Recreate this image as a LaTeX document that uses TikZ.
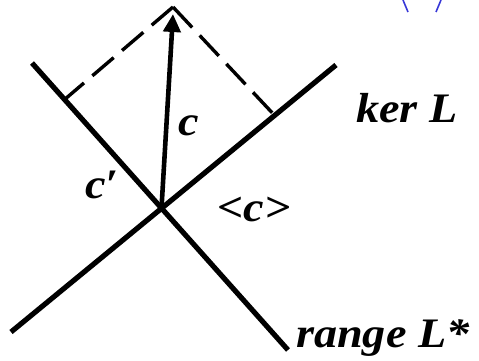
\documentclass[tikz,border=0pt]{standalone}
\usepackage{fontspec}
\setmainfont{Liberation Serif}
\usetikzlibrary{arrows.meta}
\tikzset{
  lbl/.style={inner sep=0pt, font=\fontsize{42}{44}\bfseries\itshape\selectfont, xscale=1.1},
  axis/.style={line width=5.2pt},
  proj/.style={line width=3.4pt, dash pattern=on 28pt off 11pt},
  vec/.style={line width=4.6pt, -{Triangle[length=18pt,width=17pt]}},
  bluemark/.style={line width=1.6pt, draw={rgb,255:red,55;green,55;blue,215}}
}
\begin{document}
\begin{tikzpicture}[x=1pt,y=-1pt]
\useasboundingbox (0,0) rectangle (479,361);
% lines
\coordinate (k1) at (11,332);
\coordinate (k2) at (336,65);
\coordinate (r1) at (32,63);
\coordinate (r2) at (288,350);
\coordinate (O) at (161.5,208);
\coordinate (apex) at (173,7);
\coordinate (tip) at (173,14);
\coordinate (f1) at (64,100);
\coordinate (f2) at (278,119);
\draw[axis] (k1) -- (k2);
\draw[axis] (r1) -- (r2);
% projections
\draw[proj] (apex) -- (f1);
\draw[proj] (apex) -- (f2);
% vector
\draw[vec] (O) -- (tip);
% labels
\node[lbl, anchor=base west] (ker) at (356,122) {ker L};
\node[lbl, anchor=base west] (range) at (296,347) {range L*};
\node[lbl, anchor=base] (c) at (189,135) {c};
\node[lbl, anchor=base] (cp) at (102,198) {c′};
\node[lbl, anchor=base] (cc) at (254,221) {<c>};
% blue marks at top
\coordinate (b1) at (403,0);
\coordinate (b2) at (408,12);
\coordinate (b3) at (441,0);
\coordinate (b4) at (436,12);
\draw[bluemark] (b1) -- (b2);
\draw[bluemark] (b3) -- (b4);
\end{tikzpicture}
\end{document}
